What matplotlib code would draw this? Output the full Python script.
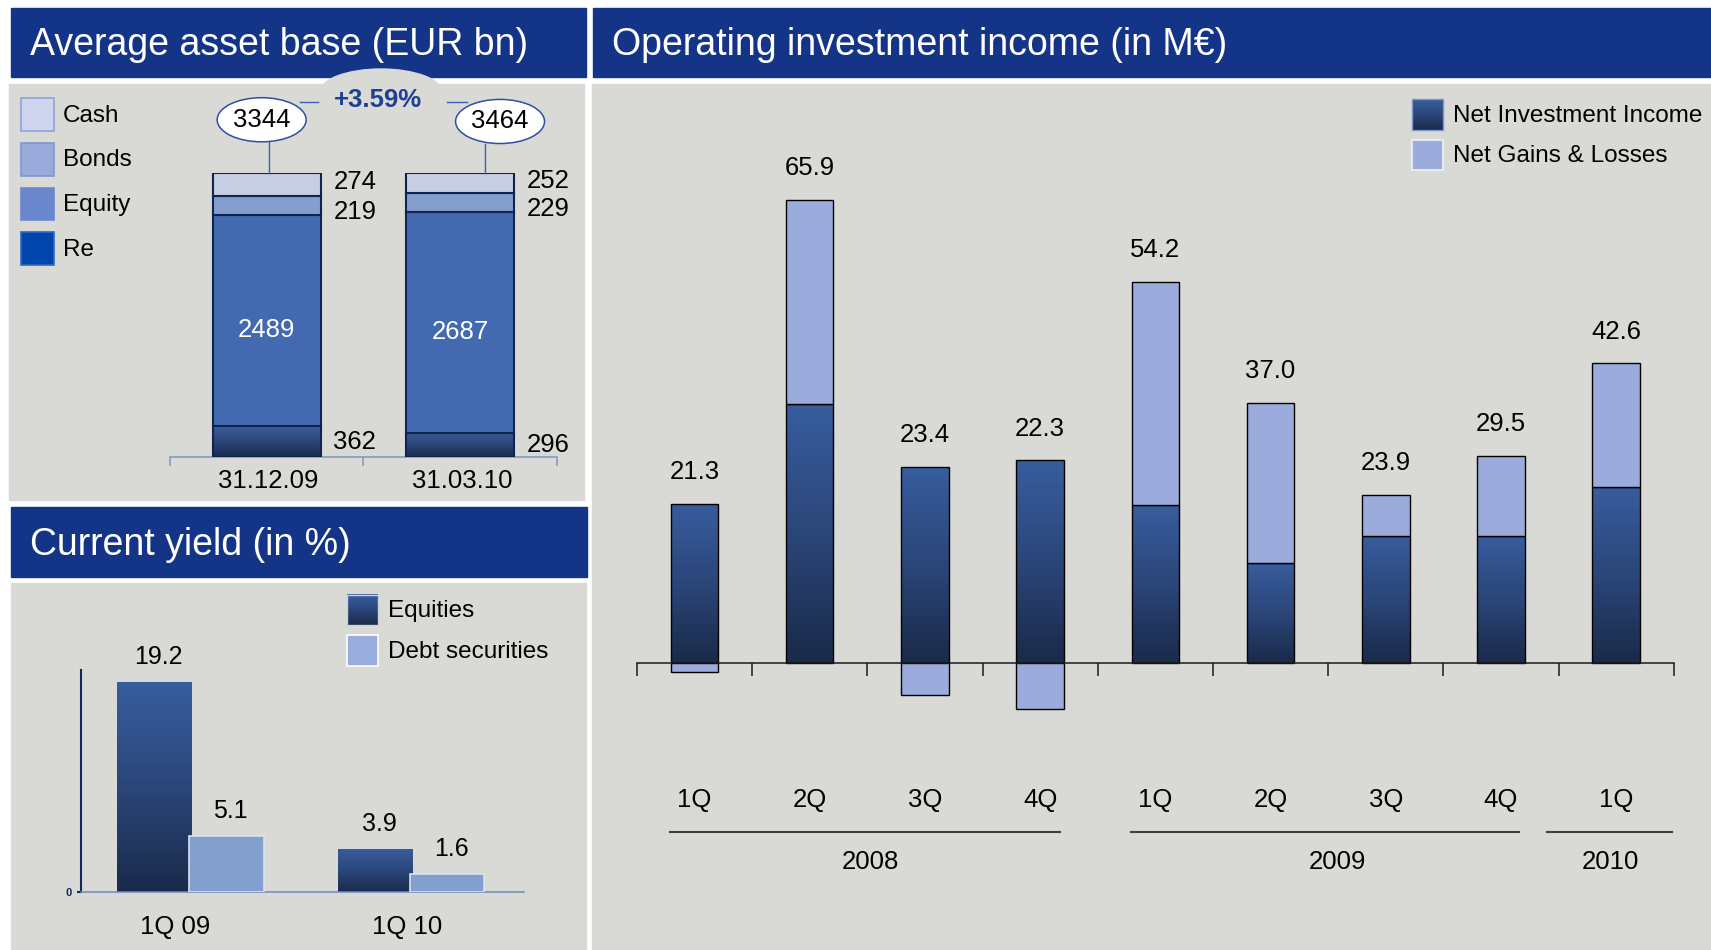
import numpy as np
import matplotlib
matplotlib.use('Agg')
import matplotlib.pyplot as plt
from matplotlib.patches import Rectangle, Ellipse
from matplotlib.colors import LinearSegmentedColormap
from matplotlib.transforms import blended_transform_factory

plt.rcParams['font.family'] = ['Liberation Sans', 'DejaVu Sans']

# --- average asset base, EUR bn ---
dates = ['31.12.09', '31.03.10']
legend_classes = ['Cash', 'Bonds', 'Equity', 'Re']
re_vals = [362, 296]
equity_vals = [2489, 2687]
bond_vals = [219, 229]
cash_vals = [274, 252]

# --- current yield, % ---
yield_periods = ['1Q 09', '1Q 10']
yield_series = ['Equities', 'Debt securities']
equities_yield = [19.2, 3.9]
debt_yield = [5.1, 1.6]

# --- operating investment income, M EUR ---
quarters = ['1Q', '2Q', '3Q', '4Q', '1Q', '2Q', '3Q', '4Q', '1Q']
years = ['2008', '2009', '2010']
income_series = ['Net Investment Income', 'Net Gains & Losses']
net_inv_income = [22.6, 36.9, 27.9, 28.8, 22.4, 14.2, 18.1, 18.1, 25.0]
net_gains_losses = [-1.3, 29.0, -4.5, -6.5, 31.8, 22.8, 5.8, 11.4, 17.6]

HEADER = '#143487'
PANEL = '#D9D9D5'
DARK_TOP, DARK_MID, DARK_BOT = '#385D9E', '#2B4679', '#1A2A4A'

W, H = 1711, 950
fig = plt.figure(figsize=(W / 100, H / 100), dpi=100)
fig.patch.set_facecolor('white')


def add_ax(l, t, r, b, **kw):
    # axes placed by pixel box, origin top-left
    return fig.add_axes([l / W, 1 - b / H, (r - l) / W, (b - t) / H], **kw)


def gradient(ax, patch, z, colors=(DARK_BOT, DARK_MID, DARK_TOP)):
    x0, y0 = patch.get_x(), patch.get_y()
    w, h = patch.get_width(), patch.get_height()
    cmap = LinearSegmentedColormap.from_list('g', list(colors))
    grad = np.linspace(0, 1, 256).reshape(-1, 1)
    im = ax.imshow(grad, cmap=cmap, origin='lower', aspect='auto',
                   extent=[x0, x0 + w, y0, y0 + h], zorder=z,
                   interpolation='bilinear')
    im.set_clip_path(patch)


bg = add_ax(0, 0, W, H, zorder=0)
fg = add_ax(0, 0, W, H, zorder=5)
for a in (bg, fg):
    a.axis('off')

# panels and header bars
for l, t, r, b in [(11, 8, 586, 77), (11, 507, 587, 577), (593, 8, 1711, 77)]:
    bg.add_patch(Rectangle((l, t), r - l, b - t, color=HEADER, zorder=1))
for l, t, r, b in [(9, 84, 584, 500), (11, 583, 586, 950), (592, 84, 1711, 950)]:
    bg.add_patch(Rectangle((l, t), r - l, b - t, color=PANEL, zorder=1))
bg.add_patch(Ellipse((381, 92), 122, 46, color=PANEL, zorder=2))

bg.text(30, 55, 'Average asset base (EUR bn)', color='white', fontsize=27, va='baseline', zorder=3)
bg.text(30, 555, 'Current yield (in %)', color='white', fontsize=27, va='baseline', zorder=3)
bg.text(612, 55, 'Operating investment income (in M€)', color='white', fontsize=27, va='baseline', zorder=3)


def px_x(ax):
    return blended_transform_factory(ax.transData, fg.transData)


# ---------------- asset base: 100% stacked bars ----------------
ax1 = add_ax(170, 172.7, 556.7, 457.3, zorder=1)
ax1.set_facecolor('none')
x1 = np.arange(len(dates))
stack = np.array([re_vals, equity_vals, bond_vals, cash_vals], dtype=float)
totals = stack.sum(axis=0)
shares = stack / totals
bottoms = np.vstack([np.zeros(len(dates)), np.cumsum(shares, axis=0)[:-1]])
seg_colors = ['none', '#4369B1', '#829FCD', '#C6CEE3']
label_dy = [0, -7, -4.5, 1.5]
bw1 = 0.56
for k in range(len(stack)):
    bars = ax1.bar(x1, shares[k], bw1, bottom=bottoms[k], facecolor=seg_colors[k],
                   edgecolor='#0F2550', linewidth=1.5, zorder=3)
    for i, p in enumerate(bars):
        if k == 0:
            gradient(ax1, p, 2, ('#1A2B4F', '#2C4578', '#3C5E99'))
        ymid = bottoms[k][i] + shares[k][i] / 2
        if k == 1:
            ax1.annotate(f'{stack[k][i]:.0f}', (x1[i], ymid), xytext=(0, label_dy[k]),
                         textcoords='offset points', ha='center', va='center',
                         color='white', fontsize=18.5, zorder=4)
        else:
            ax1.annotate(f'{stack[k][i]:.0f}', (x1[i] + bw1 / 2, ymid), xytext=(9, label_dy[k]),
                         textcoords='offset points', ha='left', va='center',
                         fontsize=18.5, zorder=4)

# total call-outs and growth
ell_x = [-0.026, 1.207]
ell_y = [1.186, 1.180]
conn_x = [0.013, 1.129]
for i in range(len(dates)):
    ax1.add_patch(Ellipse((ell_x[i], ell_y[i]), 0.46, 0.155, facecolor='white',
                          edgecolor='#2B50A0', linewidth=1.1, clip_on=False, zorder=5))
    ax1.text(ell_x[i], ell_y[i], f'{totals[i]:.0f}', ha='center', va='center',
             fontsize=18.5, clip_on=False, zorder=6)
    ax1.plot([conn_x[i], conn_x[i]], [1.0, ell_y[i] - 0.0775], color='#3A5FAF',
             lw=1, clip_on=False, zorder=4)
ax1.plot([0.172, 0.265], [1.247, 1.247], color='#3A5FAF', lw=1, clip_on=False)
ax1.plot([0.933, 1.036], [1.247, 1.247], color='#3A5FAF', lw=1, clip_on=False)
growth = (totals[1] / totals[0] - 1) * 100
ax1.text(0.576, 1.255, f'+{growth:.2f}%', ha='center', va='center', fontsize=18.5,
         fontweight='bold', color='#1F3F94', clip_on=False)

ax1.set_xlim(-0.5, 1.5)
ax1.set_ylim(0, 1)
for s in ['top', 'right', 'left']:
    ax1.spines[s].set_visible(False)
ax1.spines['bottom'].set_color('#7D95C5')
ax1.spines['bottom'].set_linewidth(1.1)
ax1.set_yticks([])
ax1.set_xticks([])
ax1.set_xticks([-0.5, 0.5, 1.5], minor=True)
ax1.tick_params(axis='x', which='minor', direction='out', length=6.5, width=1.1, color='#7D95C5')
for i, d in enumerate(dates):
    ax1.text(x1[i] + 0.01, 481, d, transform=px_x(ax1), ha='center', va='center', fontsize=18.5)

# ---------------- current yield ----------------
ax2 = add_ax(81, 670, 523.8, 891.7, zorder=1)
ax2.set_facecolor('none')
xg = np.arange(len(yield_periods))
off, bw2 = 0.163, 0.337
eq_bars = ax2.bar(xg - off, equities_yield, bw2, facecolor='none', edgecolor='none', zorder=3)
for p in eq_bars:
    gradient(ax2, p, 2)
db_bars = ax2.bar(xg + off, debt_yield, bw2, color='#839FCD', edgecolor='#DDE2EC',
                  linewidth=1.2, zorder=4)
for bars in (eq_bars, db_bars):
    for p in bars:
        ax2.annotate(f'{p.get_height():.1f}', (p.get_x() + p.get_width() / 2, p.get_height()),
                     xytext=(3, 18), textcoords='offset points', ha='center', va='center',
                     fontsize=18)
ax2.set_xlim(-0.496, 1.511)
ax2.set_ylim(0, 20.27)
for s in ['top', 'right']:
    ax2.spines[s].set_visible(False)
ax2.spines['left'].set_color('#14295A')
ax2.spines['left'].set_linewidth(1.5)
ax2.spines['bottom'].set_color('#7189BE')
ax2.spines['bottom'].set_linewidth(1.1)
ax2.set_xticks([])
ax2.set_yticks([0])
ax2.set_yticklabels(['0'], fontsize=8, fontweight='bold', color='#14295A')
ax2.tick_params(axis='y', length=3, width=1.5, color='#14295A', pad=4)
period_dx = [-0.07, -0.02]
for i, lab in enumerate(yield_periods):
    ax2.text(xg[i] + period_dx[i], 927, lab, transform=px_x(ax2), ha='center', va='center',
             fontsize=18.5)

# ---------------- operating investment income ----------------
ax3 = add_ax(636.8, 156.8, 1673.9, 747.3, zorder=1)
ax3.set_facecolor('none')
xq = np.arange(len(quarters))
nii = np.array(net_inv_income)
ngl = np.array(net_gains_losses)
bw3 = 0.413
nii_bars = ax3.bar(xq, nii, bw3, facecolor='none', edgecolor='black', linewidth=1.0, zorder=3)
for p in nii_bars:
    gradient(ax3, p, 2)
ax3.bar(xq, ngl, bw3, bottom=np.where(ngl >= 0, nii, 0), color='#9BACDC',
        edgecolor='black', linewidth=1.0, zorder=3)
tops = nii + np.clip(ngl, 0, None)
for i in xq:
    ax3.annotate(f'{nii[i] + ngl[i]:.1f}', (i, tops[i]), xytext=(0, 23),
                 textcoords='offset points', ha='center', va='center', fontsize=18.5)

ax3.set_xlim(-0.5, len(quarters) - 0.5)
ax3.set_ylim(-12, 72)
for s in ['top', 'right', 'left']:
    ax3.spines[s].set_visible(False)
ax3.spines['bottom'].set_position(('data', 0))
ax3.spines['bottom'].set_color('#1A1A1A')
ax3.spines['bottom'].set_linewidth(1.1)
ax3.spines['bottom'].set_zorder(4)
ax3.set_yticks([])
ax3.set_xticks([])
ax3.set_xticks(np.arange(-0.5, len(quarters)), minor=True)
ax3.tick_params(axis='x', which='minor', direction='out', length=9.4, width=1.1, color='#1A1A1A')

tq = px_x(ax3)
for i, q in enumerate(quarters):
    ax3.text(i, 799.5, q, transform=tq, ha='center', va='center', fontsize=18.5)
year_spans = [(-0.21, 3.17), (3.79, 7.16), (7.40, 8.48)]
year_label_x = [1.53, 5.58, 7.95]
for yr, (a, b), xl in zip(years, year_spans, year_label_x):
    ax3.plot([a, b], [831.7, 831.7], transform=tq, color='#404040', lw=1.5, clip_on=False)
    ax3.text(xl, 862, yr, transform=tq, ha='center', va='center', fontsize=18.5)


# ---------------- legends ----------------
def legend_box(x0, y0, x1, y1, face=None, edge='white', grad=False):
    if grad:
        cmap = LinearSegmentedColormap.from_list('g', [DARK_BOT, DARK_MID, DARK_TOP])
        fg.imshow(np.linspace(0, 1, 64).reshape(-1, 1), cmap=cmap, origin='lower',
                  aspect='auto', extent=[x0, x1, y1, y0], zorder=2, interpolation='bilinear')
        fg.add_patch(Rectangle((x0, y0), x1 - x0, y1 - y0, fill=False, edgecolor=edge,
                               linewidth=1, zorder=3))
    else:
        fg.add_patch(Rectangle((x0, y0), x1 - x0, y1 - y0, facecolor=face, edgecolor=edge,
                               linewidth=1.2, zorder=3))


asset_legend = [('#CFD5EE', '#8DA3D8'), ('#9AAADB', '#7F96D2'),
                ('#6A87CE', '#6A87CE'), ('#0046AD', '#2E69C6')]
for j, (name, (fc, ec)) in enumerate(zip(legend_classes, asset_legend)):
    top = 98.3 + j * 44.7
    legend_box(21.3, top, 53.7, top + 32.5, fc, ec)
    fg.text(63, top + 17.5, name, va='center', fontsize=17.5)

for j, name in enumerate(yield_series):
    top = 594.7 + j * 40.5
    if j == 0:
        legend_box(347, top, 377.6, top + 30.6, edge='#C9D1E3', grad=True)
    else:
        legend_box(347, top, 377.6, top + 30.6, '#9BADDD', 'white')
    fg.text(388.5, top + 16.5, name, va='center', fontsize=17.5)

for j, name in enumerate(income_series):
    top = 99.3 + j * 40.4
    if j == 0:
        legend_box(1411.7, top, 1443.3, top + 30.6, edge='#7F97C8', grad=True)
    else:
        legend_box(1411.7, top, 1443.3, top + 30.6, '#9BACDC', '#EEF1F7')
    fg.text(1453, top + 16.5, name, va='center', fontsize=17.5)

for a in (bg, fg):
    a.set_xlim(0, W)
    a.set_ylim(H, 0)

fig.savefig('out.png', dpi=100, facecolor='white')
